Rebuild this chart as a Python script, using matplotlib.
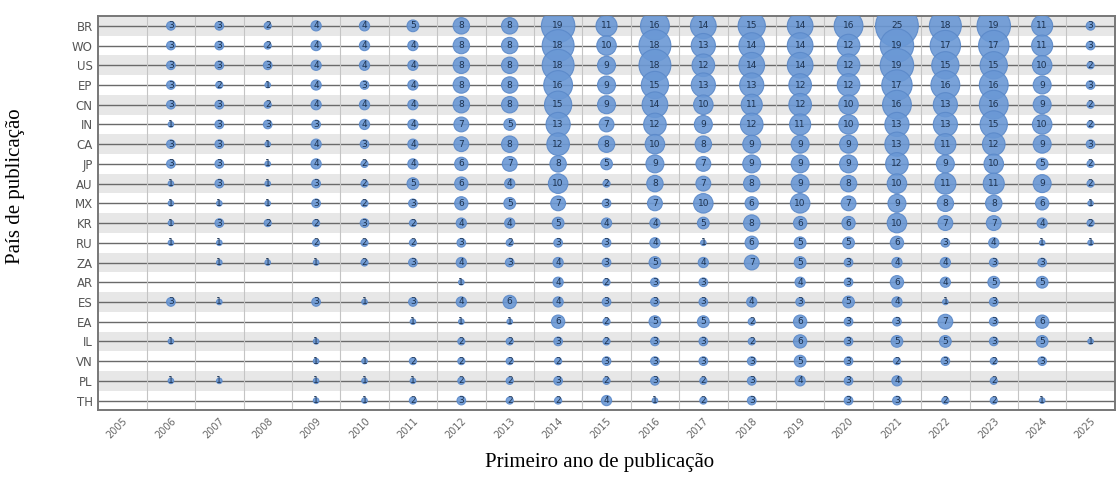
import numpy as np
import matplotlib
matplotlib.use('Agg')
import matplotlib.pyplot as plt

years = list(range(2005, 2026))
countries = ['BR', 'WO', 'US', 'EP', 'CN', 'IN', 'CA', 'JP', 'AU', 'MX',
             'KR', 'RU', 'ZA', 'AR', 'ES', 'EA', 'IL', 'VN', 'PL', 'TH']

# publications per year, 2005..2025 (0 = no bubble)
BR = [0, 3, 3, 2, 4, 4, 5, 8, 8, 19, 11, 16, 14, 15, 14, 16, 25, 18, 19, 11, 3]
WO = [0, 3, 3, 2, 4, 4, 4, 8, 8, 18, 10, 18, 13, 14, 14, 12, 19, 17, 17, 11, 3]
US = [0, 3, 3, 3, 4, 4, 4, 8, 8, 18, 9, 18, 12, 14, 14, 12, 19, 15, 15, 10, 2]
EP = [0, 3, 2, 1, 4, 3, 4, 8, 8, 16, 9, 15, 13, 13, 12, 12, 17, 16, 16, 9, 3]
CN = [0, 3, 3, 2, 4, 4, 4, 8, 8, 15, 9, 14, 10, 11, 12, 10, 16, 13, 16, 9, 2]
IN = [0, 1, 3, 3, 3, 4, 4, 7, 5, 13, 7, 12, 9, 12, 11, 10, 13, 13, 15, 10, 2]
CA = [0, 3, 3, 1, 4, 3, 4, 7, 8, 12, 8, 10, 8, 9, 9, 9, 13, 11, 12, 9, 3]
JP = [0, 3, 3, 1, 4, 2, 4, 6, 7, 8, 5, 9, 7, 9, 9, 9, 12, 9, 10, 5, 2]
AU = [0, 1, 3, 1, 3, 2, 5, 6, 4, 10, 2, 8, 7, 8, 9, 8, 10, 11, 11, 9, 2]
MX = [0, 1, 1, 1, 3, 2, 3, 6, 5, 7, 3, 7, 10, 6, 10, 7, 9, 8, 8, 6, 1]
KR = [0, 1, 3, 2, 2, 3, 2, 4, 4, 5, 4, 4, 5, 8, 6, 6, 10, 7, 7, 4, 2]
RU = [0, 1, 1, 0, 2, 2, 2, 3, 2, 3, 3, 4, 1, 6, 5, 5, 6, 3, 4, 1, 1]
ZA = [0, 0, 1, 1, 1, 2, 3, 4, 3, 4, 3, 5, 4, 7, 5, 3, 4, 4, 3, 3, 0]
AR = [0, 0, 0, 0, 0, 0, 0, 1, 0, 4, 2, 3, 3, 0, 4, 3, 6, 4, 5, 5, 0]
ES = [0, 3, 1, 0, 3, 1, 3, 4, 6, 4, 3, 3, 3, 4, 3, 5, 4, 1, 3, 0, 0]
EA = [0, 0, 0, 0, 0, 0, 1, 1, 1, 6, 2, 5, 5, 2, 6, 3, 3, 7, 3, 6, 0]
IL = [0, 1, 0, 0, 1, 0, 0, 2, 2, 3, 2, 3, 3, 2, 6, 3, 5, 5, 3, 5, 1]
VN = [0, 0, 0, 0, 1, 1, 2, 2, 2, 2, 3, 3, 3, 3, 5, 3, 2, 3, 2, 3, 0]
PL = [0, 1, 1, 0, 1, 1, 1, 2, 2, 3, 2, 3, 2, 3, 4, 3, 4, 0, 2, 0, 0]
TH = [0, 0, 0, 0, 1, 1, 2, 3, 2, 2, 4, 1, 2, 3, 0, 3, 3, 2, 2, 1, 0]

counts = np.array([BR, WO, US, EP, CN, IN, CA, JP, AU, MX,
                   KR, RU, ZA, AR, ES, EA, IL, VN, PL, TH])

fig = plt.figure(figsize=(11.17, 4.84), dpi=100)
ax = fig.add_axes([0.088, 0.152, 0.910, 0.815])

# striped row bands and row lines
for i in range(len(countries)):
    if i % 2 == 0:
        ax.axhspan(i - 0.5, i + 0.5, color='#e7e7e7', zorder=0, lw=0)
    ax.axhline(i, color='#6a6a6a', lw=1.0, zorder=1)
for yr in years[:-1]:
    ax.axvline(yr + 0.5, color='#c4c4c4', lw=0.8, zorder=1)

yy, xx = np.nonzero(counts)
vals = counts[yy, xx]
xs = np.array(years)[xx]
d_px = 4 + 1.55 * vals
ax.scatter(xs, yy, s=(d_px * 0.72) ** 2, color='#6a98d5', alpha=0.9,
           edgecolors='#5b89c9', linewidths=0.8, zorder=3)
for x, y, v in zip(xs, yy, vals):
    ax.text(x, y, str(v), ha='center', va='center', fontsize=6.5,
            color='#1c3250', zorder=4)

ax.set_xlim(2004.5, 2025.5)
ax.set_ylim(len(countries) - 0.5, -0.5)
ax.set_yticks(range(len(countries)))
ax.set_yticklabels(countries, fontsize=8.5, color='#555555')
ax.set_xticks(years)
ax.set_xticklabels([str(y) for y in years], rotation=45, ha='right',
                   rotation_mode='anchor', fontsize=7, color='#666666')
ax.tick_params(length=0, pad=4)
for sp in ax.spines.values():
    sp.set_color('#777777')
    sp.set_linewidth(1.4)

fig.text(0.537, 0.045, 'Primeiro ano de publicação', ha='center', va='center',
         fontsize=15, family='Liberation Serif')
fig.text(0.014, 0.615, 'País de publicação', ha='center', va='center',
         rotation=90, fontsize=15, family='Liberation Serif')

fig.savefig('out.png', dpi=100)
